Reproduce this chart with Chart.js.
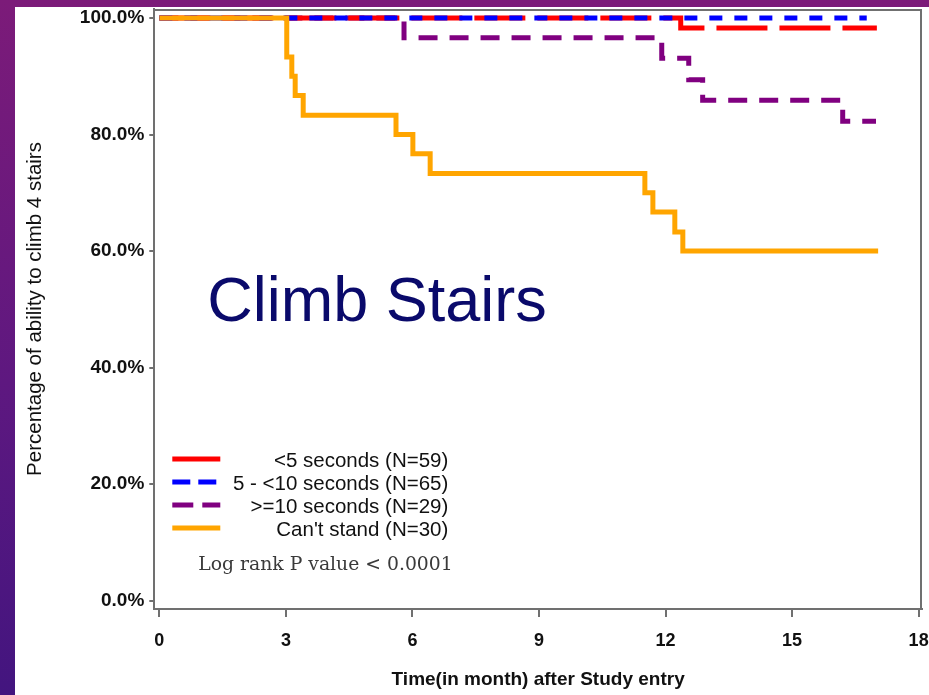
<!DOCTYPE html>
<html lang="en">
<head>
  <meta charset="UTF-8" />
  <title>Climb Stairs - Kaplan-Meier</title>
  <script src="https://cdn.jsdelivr.net/npm/chart.js@4.4.1/dist/chart.umd.min.js"></script>
  <style>
    *{margin:0;padding:0;box-sizing:border-box}
    html,body{width:929px;height:695px;overflow:hidden}
    body{background:linear-gradient(180deg,#7c1b79 0%,#5e1880 55%,#43157f 100%);font-family:"Liberation Sans",Arial,sans-serif}
    .panel{position:absolute;left:15px;top:7px;width:914px;height:688px;background:#fff}
  </style>
</head>
<body>
  <div class="panel"><canvas id="kmChart"></canvas></div>
  <script>
    // tick labels
    const xTickValues = [0, 3, 6, 9, 12, 15, 18];
    const yTickValues = [0, 20, 40, 60, 80, 100];

    // groups
    const groupNames = ['<5 seconds (N=59)', '5 - <10 seconds (N=65)', '>=10 seconds (N=29)', "Can't stand (N=30)"];

    // survival curves (month, % still able)
    const lt5Months = [0, 12.36, 17.01];
    const lt5Pct = [100, 98.3, 98.3];
    const mid5to10Months = [0, 16.77];
    const mid5to10Pct = [100, 100];
    const ge10Months = [0, 5.80, 11.91, 12.55, 12.88, 16.20, 16.99];
    const ge10Pct = [100, 96.6, 93.1, 89.4, 85.9, 82.3, 82.3];
    const cantStandMonths = [0, 3.02, 3.14, 3.22, 3.41, 5.61, 6.01, 6.42, 11.51, 11.70, 12.22, 12.41, 17.04];
    const cantStandPct = [100, 93.3, 90.0, 86.7, 83.3, 80.0, 76.7, 73.3, 70.0, 66.7, 63.3, 60.0, 60.0];

    const pts = (xs, ys) => xs.map((x, i) => ({x: x, y: ys[i]}));

    const styles = [
      {color: '#ff0000', dash: [51, 12], legendDash: []},
      {color: '#0000ff', dash: [13, 12], legendDash: [18, 8]},
      {color: '#800080', dash: [19, 12], legendDash: [21, 9]},
      {color: '#ffa500', dash: [], legendDash: []}
    ];
    const curves = [pts(lt5Months, lt5Pct), pts(mid5to10Months, mid5to10Pct), pts(ge10Months, ge10Pct), pts(cantStandMonths, cantStandPct)];
    const drawOrder = [2, 1, 3, 0]; // lower = on top

    const FONT = '"Liberation Sans", Arial, sans-serif';

    // frame, big title, legend and p-value note
    const overlay = {
      id: 'overlay',
      afterDraw(chart) {
        const ctx = chart.ctx, ca = chart.chartArea;
        ctx.save();
        ctx.strokeStyle = '#707070';
        ctx.lineWidth = 2;
        ctx.beginPath();
        ctx.moveTo(ca.left, ca.top + 1);
        ctx.lineTo(ca.right - 1, ca.top + 1);
        ctx.lineTo(ca.right - 1, ca.bottom);
        ctx.stroke();

        ctx.fillStyle = '#0a0a6b';
        ctx.font = '63px ' + FONT;
        ctx.textBaseline = 'alphabetic';
        ctx.textAlign = 'left';
        ctx.fillText('Climb Stairs', ca.left + 53, ca.top + 312);

        ctx.font = '20.5px ' + FONT;
        ctx.textAlign = 'right';
        ctx.textBaseline = 'middle';
        groupNames.forEach((name, i) => {
          const y = ca.top + 450 + i * 23;
          ctx.strokeStyle = styles[i].color;
          ctx.lineWidth = 5;
          ctx.setLineDash(styles[i].legendDash);
          ctx.beginPath();
          ctx.moveTo(ca.left + 18, y);
          ctx.lineTo(ca.left + 66, y);
          ctx.stroke();
          ctx.setLineDash([]);
          ctx.fillStyle = '#111';
          ctx.fillText(name, ca.left + 294, y + 2);
        });

        ctx.fillStyle = '#3a3a3a';
        ctx.font = '18.8px "DejaVu Serif", serif';
        ctx.textAlign = 'left';
        ctx.textBaseline = 'alphabetic';
        ctx.fillText('Log rank P value < 0.0001', ca.left + 44, ca.top + 561);
        ctx.restore();
      }
    };

    new Chart(document.getElementById('kmChart').getContext('2d'), {
      type: 'line',
      data: {
        datasets: curves.map((d, i) => ({
          label: groupNames[i],
          data: d,
          borderColor: styles[i].color,
          borderDash: styles[i].dash,
          borderWidth: 5,
          borderJoinStyle: 'miter',
          stepped: true,
          pointRadius: 0,
          fill: false,
          order: drawOrder[i]
        }))
      },
      options: {
        responsive: true,
        maintainAspectRatio: false,
        animation: false,
        layout: {padding: {left: 0, right: 7, top: 2, bottom: 0}},
        plugins: {legend: {display: false}, tooltip: {enabled: false}},
        scales: {
          x: {
            type: 'linear', min: -0.12, max: 18.08,
            afterBuildTicks: s => { s.ticks = xTickValues.map(v => ({value: v})); },
            afterFit: s => { s.height = 86; s.paddingLeft = 0; s.paddingRight = 0; },
            grid: {display: true, drawOnChartArea: false, drawTicks: true, tickLength: 8, color: '#707070', lineWidth: 2},
            border: {display: true, color: '#707070', width: 2},
            ticks: {color: '#111', padding: 13, maxRotation: 0, font: {family: FONT, size: 18, weight: 'bold'}},
            title: {display: true, text: 'Time(in month) after Study entry', color: '#111', padding: {top: 0, bottom: 4}, font: {family: FONT, size: 19, weight: 'bold'}}
          },
          y: {
            type: 'linear', min: -1.42, max: 101.55,
            afterBuildTicks: s => { s.ticks = yTickValues.map(v => ({value: v})); },
            afterFit: s => { s.width = 139.3; s.paddingTop = 0; s.paddingBottom = 0; },
            grid: {display: true, drawOnChartArea: false, drawTicks: true, tickLength: 5, color: '#707070', lineWidth: 2},
            border: {display: true, color: '#707070', width: 2},
            ticks: {color: '#111', padding: 5, callback: v => v.toFixed(1) + '%', font: {family: FONT, size: 19, weight: 'bold'}},
            title: {display: true, text: 'Percentage of ability to climb 4 stairs', color: '#111', padding: {top: 8, bottom: 0}, font: {family: FONT, size: 20.5}}
          }
        }
      },
      plugins: [overlay]
    });
  </script>
</body>
</html>
